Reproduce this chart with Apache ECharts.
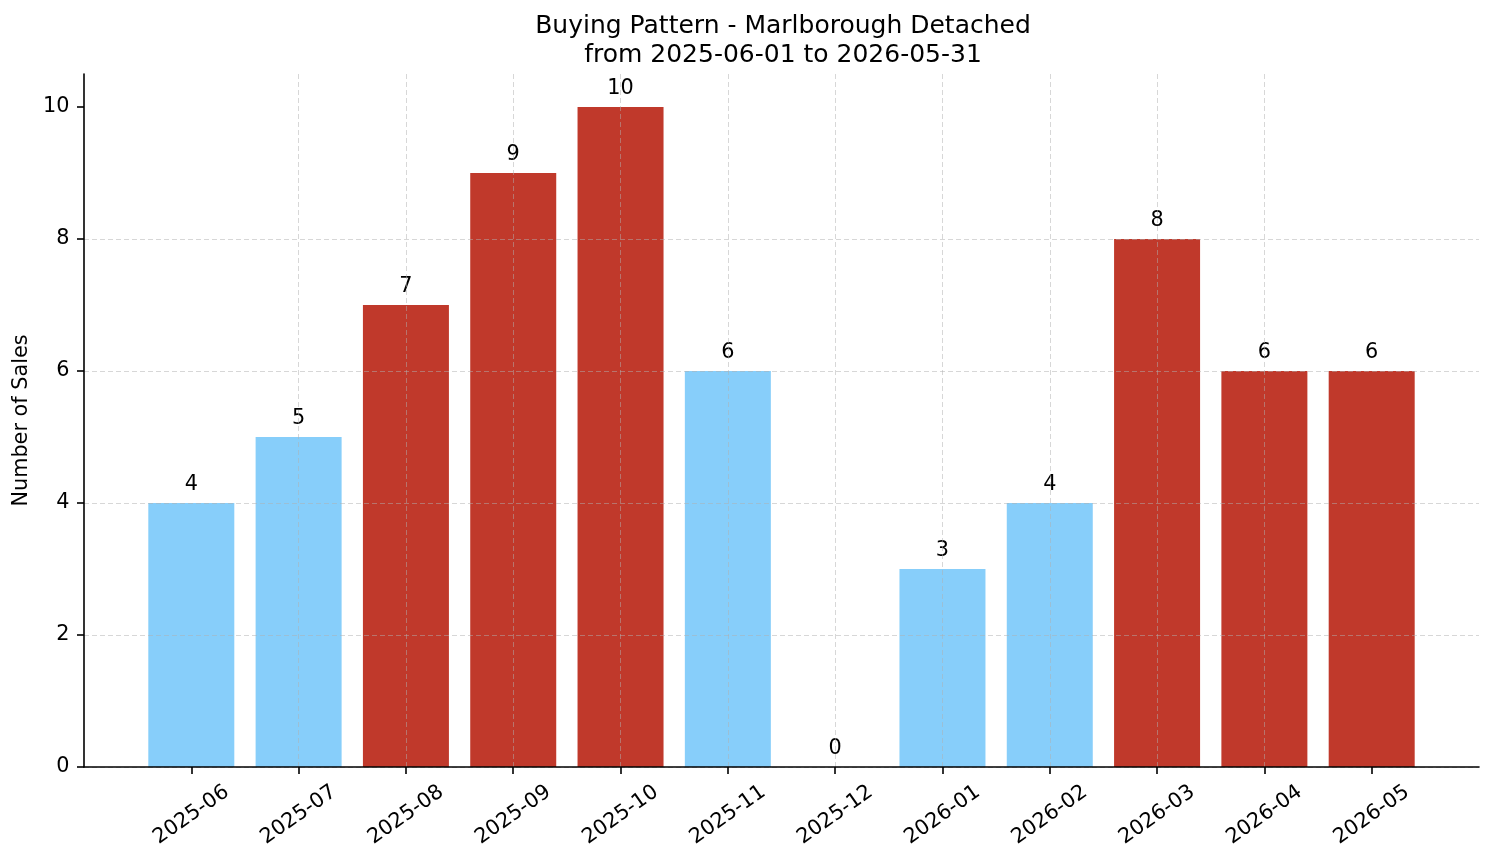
<!DOCTYPE html>
<html>
<head>
<meta charset="utf-8">
<script src="https://cdn.jsdelivr.net/npm/echarts@6/dist/echarts.min.js"></script>
<style>
html,body{margin:0;padding:0;background:#fff;}
#chart{width:1494px;height:863px;}
</style>
</head>
<body>
<div id="chart"></div>
<script>
const categories = ['2025-06','2025-07','2025-08','2025-09','2025-10','2025-11','2025-12','2026-01','2026-02','2026-03','2026-04','2026-05'];
const sales = [4, 5, 7, 9, 10, 6, 0, 3, 4, 8, 6, 6];
const isPeak = [false, false, true, true, true, false, false, false, false, true, true, true];
const yTicks = [0, 2, 4, 6, 8, 10];
const titleLines = ['Buying Pattern - Marlborough Detached', 'from 2025-06-01 to 2026-05-31'];

const FONT = 'DejaVu Sans';
const BLUE = '#87CEFA', RED = '#C0392B';
const idx = categories.map((c, i) => i);

const chart = echarts.init(document.getElementById('chart'), null, {renderer: 'canvas'});
chart.setOption({
  backgroundColor: '#ffffff',
  animation: false,
  title: {
    text: titleLines.join('\n'),
    left: 778, top: 7, textAlign: 'center',
    textStyle: {fontFamily: FONT, fontSize: 25, fontWeight: 'normal', color: '#000', lineHeight: 29}
  },
  grid: {left: 84, right: 15, top: 74, bottom: 96, containLabel: false},
  xAxis: {
    type: 'value', min: -1, max: 12, interval: 1, z: 3,
    axisLine: {show: true, onZero: false, lineStyle: {color: '#000', width: 1.6}},
    axisTick: {show: true, length: 7, customValues: idx, lineStyle: {color: '#000', width: 1.6}},
    axisLabel: {
      customValues: idx, rotate: 35, align: 'center', verticalAlign: 'middle', margin: 48,
      fontFamily: FONT, fontSize: 20.8, color: '#000',
      formatter: v => categories[Math.round(v)] || ''
    },
    splitLine: {show: true, showMinLine: false, showMaxLine: false,
      lineStyle: {color: 'rgba(176,176,176,0.5)', width: 1, type: [5, 3]}}
  },
  yAxis: {
    type: 'value', min: 0, max: 10.5, interval: 2, z: 3,
    name: 'Number of Sales', nameLocation: 'middle', nameGap: 48, nameRotate: 90,
    nameTextStyle: {fontFamily: FONT, fontSize: 20.8, color: '#000'},
    axisLine: {show: true, onZero: false, lineStyle: {color: '#000', width: 1.6}},
    axisTick: {show: true, length: 7, customValues: yTicks, lineStyle: {color: '#000', width: 1.6}},
    axisLabel: {customValues: yTicks, margin: 14.6, fontFamily: FONT, fontSize: 20.8, color: '#000'},
    splitLine: {show: true, showMaxLine: false,
      lineStyle: {color: 'rgba(176,176,176,0.5)', width: 1, type: [5, 3]}}
  },
  series: [{
    type: 'bar',
    barWidth: 86,
    data: sales.map((v, i) => ({value: [i, v], itemStyle: {color: isPeak[i] ? RED : BLUE}})),
    label: {
      show: true, position: 'top', distance: 8,
      fontFamily: FONT, fontSize: 20.8, color: '#000',
      formatter: p => String(p.value[1])
    }
  }]
});
</script>
</body>
</html>
